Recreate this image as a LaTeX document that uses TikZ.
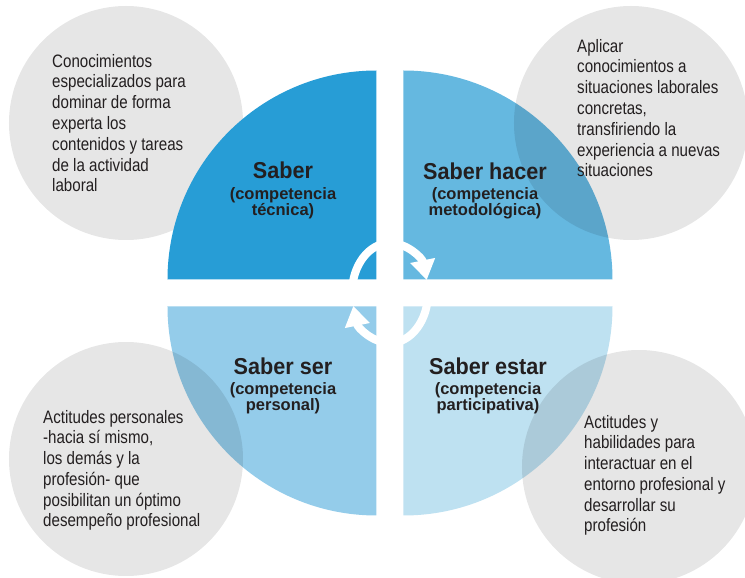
\documentclass[tikz,border=0pt]{standalone}
\usepackage{fontspec}
\setmainfont{Liberation Sans}[FakeStretch=0.84]
\newfontfamily\titfont{Liberation Sans}[FakeStretch=0.94]
\newfontfamily\subfont{Liberation Sans}
\usetikzlibrary{arrows.meta}
\definecolor{saber}{RGB}{39,157,214}
\definecolor{hacer}{RGB}{101,184,224}
\definecolor{ser}{RGB}{148,204,234}
\definecolor{estar}{RGB}{190,225,241}
\definecolor{grisclaro}{RGB}{230,230,230}
\definecolor{texto}{RGB}{35,31,32}

\begin{document}
\begin{tikzpicture}[line cap=butt,line join=round,x=1pt,y=1pt,
	nota/.style={anchor=base west,align=left,inner sep=0pt,text=texto,font=\fontsize{18}{20.8}\selectfont},
	titulo/.style={anchor=base,inner sep=0pt,text=texto,font=\titfont\bfseries\fontsize{23}{26}\selectfont},
	subtitulo/.style={anchor=base,align=center,inner sep=0pt,text=texto,font=\subfont\bfseries\fontsize{16.5}{16.5}\selectfont,
		execute at begin node={\lineskiplimit=-10pt\relax}},
	anillo/.style={white,line width=8pt,-{Triangle[length=20pt,width=24pt]}}]
	\useasboundingbox (-390,-285) rectangle (355,293);
	\clip (-390,-285) rectangle (355,293);
	% circulo gris de atras
	\fill [grisclaro] (-264,170) circle (117);
	% cuadrantes
	\fill [saber] (-13.5,13.5) -- ++(-209,0) arc[start angle=180,end angle=90,radius=209] -- cycle;
	\fill [hacer] (13.5,13.5) -- ++(209,0) arc[start angle=0,end angle=90,radius=209] -- cycle;
	\fill [ser] (-13.5,-13.5) -- ++(-209,0) arc[start angle=180,end angle=270,radius=209] -- cycle;
	\fill [estar] (13.5,-13.5) -- ++(209,0) arc[start angle=0,end angle=-90,radius=209] -- cycle;
	% circulos grises encima
	\fill [grisclaro,blend mode=multiply] (241,170) circle (117);
	\fill [grisclaro,blend mode=multiply] (-264,-166) circle (117);
	\fill [grisclaro,blend mode=multiply] (249,-174) circle (117);

	% flechas del centro
	\draw [anillo] (180:38 and 50) arc[start angle=180,end angle=15,x radius=38,y radius=50];
	\draw [anillo] (0:38 and 50) arc[start angle=0,end angle=-165,x radius=38,y radius=50];

	% (base = ultima linea)
	\node (titSaber) at (-107,114) [titulo] {Saber};
	\node (subSaber) at (-107,77) [subtitulo] {(competencia\\técnica)};
	\node (titHacer) at (95,113) [titulo] {Saber hacer};
	\node (subHacer) at (95,77) [subtitulo] {(competencia\\metodológica)};
	\node (titSer) at (-107,-82) [titulo] {Saber ser};
	\node (subSer) at (-107,-118) [subtitulo] {(competencia\\personal)};
	\node (titEstar) at (98,-82) [titulo] {Saber estar};
	\node (subEstar) at (98,-118) [subtitulo] {(competencia\\participativa)};

	\node (notaSaber) at (-338,101) [nota] {Conocimientos\\especializados para\\dominar de forma\\experta los\\contenidos y tareas\\de la actividad\\laboral};
	\node (notaHacer) at (187,116) [nota] {Aplicar\\conocimientos a\\situaciones laborales\\concretas,\\transfiriendo la\\experiencia a nuevas\\situaciones};
	\node (notaSer) at (-347,-234) [nota] {Actitudes personales\\-hacia sí mismo,\\los demás y la\\profesión- que\\posibilitan un óptimo\\desempeño profesional};
	\node (notaEstar) at (194,-239) [nota] {Actitudes y\\habilidades para\\interactuar en el\\entorno profesional y\\desarrollar su\\profesión};
\end{tikzpicture}
\end{document}
